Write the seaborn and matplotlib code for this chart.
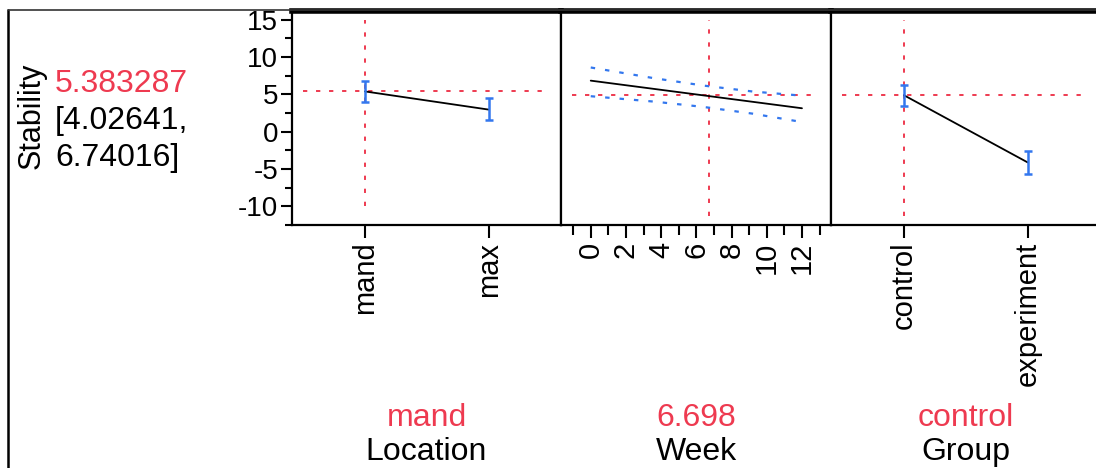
import matplotlib.pyplot as plt
from matplotlib.lines import Line2D
import numpy as np
import pandas as pd
import seaborn as sns

# Profiler values
response = "Stability"
current_pred = 5.383287
current_ci = [4.02641, 6.74016]

location = ["mand", "max"]
location_pred = [5.383287, 2.95]
location_lo = [4.02641, 1.5]
location_hi = [6.74016, 4.45]

group = ["control", "experiment"]
group_pred = [5.383287, -3.2]
group_lo = [4.02641, -4.65]
group_hi = [6.74016, -1.8]

week_fit = [0, 12]
week_pred = [7.25, 3.72]
week_ci = [0, 3.6, 6.4, 9.2, 12]
week_lo = [5.26, 4.57, 3.89, 3.03, 1.96]
week_hi = [8.93, 7.56, 6.62, 5.86, 5.33]
week_current = 6.698

factor_names = ["Location", "Week", "Group"]
factor_current = ["mand", "6.698", "control"]

RED = "#ee3a50"
BLUE = "#3377ee"
FONT = ["Liberation Sans", "DejaVu Sans"]

sns.set_theme(style="white")
plt.rcParams["font.family"] = FONT
plt.rcParams["text.color"] = "black"
plt.rcParams["xtick.color"] = "black"
plt.rcParams["ytick.color"] = "black"
plt.rcParams["xtick.labelcolor"] = "black"
plt.rcParams["ytick.labelcolor"] = "black"

fig = plt.figure(figsize=(10.96, 4.68), dpi=100)
W, H = 1096, 468


def px_axes(left, top, right, bottom):
    return fig.add_axes([left / W, 1 - bottom / H, (right - left) / W, (bottom - top) / H])


ax1 = px_axes(292, 11, 561, 225)
ax2 = px_axes(561, 11, 831, 225)
ax3 = px_axes(831, 11, 1100, 225)
axes = [ax1, ax2, ax3]

ylo, yhi = -11.2, 16.15
red_dots = dict(color=RED, lw=1.4, linestyle=(0, (2.2, 4.5)), zorder=1)
blue_dots = dict(color=BLUE, lw=1.6, linestyle=(0, (2.0, 4.5)))

# categorical panels
for ax, cats, pred, lo, hi in [(ax1, location, location_pred, location_lo, location_hi),
                               (ax3, group, group_pred, group_lo, group_hi)]:
    pos = np.arange(len(cats))
    df = pd.DataFrame({"x": pos, "y": pred})
    sns.lineplot(data=df, x="x", y="y", ax=ax, color="black", lw=1.3, zorder=3)
    yerr = [np.array(pred) - np.array(lo), np.array(hi) - np.array(pred)]
    ax.errorbar(pos, pred, yerr=yerr, fmt="none", ecolor=BLUE, elinewidth=1.8,
                capsize=3, capthick=1.8, zorder=4)
    ax.vlines(pos[0], -10, 15, **red_dots)
    ax.set_xlim(-0.59, 1.585)
    ax.set_xticks(pos)
    ax.set_xticklabels(cats, rotation=90, fontsize=21)

# continuous panel
df_fit = pd.DataFrame({"week": week_fit, "pred": week_pred})
df_ci = pd.DataFrame({"week": week_ci, "lo": week_lo, "hi": week_hi})
sns.lineplot(data=df_fit, x="week", y="pred", ax=ax2, color="black", lw=1.3, zorder=3)
sns.lineplot(data=df_ci, x="week", y="lo", ax=ax2, zorder=2, **blue_dots)
sns.lineplot(data=df_ci, x="week", y="hi", ax=ax2, zorder=2, **blue_dots)
ax2.vlines(week_current, -10, 15, **red_dots)
ax2.set_xlim(-1.69, 13.65)
ax2.set_xticks(np.arange(0, 13, 2))
ax2.set_xticks(np.arange(-1, 14, 2), minor=True)
ax2.set_xticklabels([str(v) for v in range(0, 13, 2)], rotation=90, fontsize=21)

for ax in axes:
    ax.axhline(current_pred, xmin=0.04, xmax=0.935, **red_dots)
    ax.set_ylim(ylo, yhi)
    ax.set_xlabel("")
    ax.set_ylabel("")
    for side in ["left", "right", "bottom"]:
        ax.spines[side].set_visible(True)
        ax.spines[side].set_color("black")
        ax.spines[side].set_linewidth(1.6)
    ax.spines["top"].set_visible(True)
    ax.spines["top"].set_color("black")
    ax.spines["top"].set_linewidth(4)
    ax.tick_params(axis="x", which="major", direction="out", length=9, width=1.5,
                   color="black", bottom=True, pad=3)
    ax.tick_params(axis="x", which="minor", direction="out", length=7, width=1.5,
                   color="black", bottom=True)
    if ax is not ax1:
        ax.set_yticks([])

ax1.set_yticks(np.arange(-10, 16, 5))
ax1.set_yticks(np.arange(-12.5, 16, 5), minor=True)
ax1.set_yticklabels([str(v) for v in range(-10, 16, 5)], fontsize=20)
ax1.tick_params(axis="y", which="major", direction="out", length=8, width=1.5,
                color="black", left=True, pad=2)
ax1.tick_params(axis="y", which="minor", direction="out", length=5, width=1.5,
                color="black", left=True)

# response readout on the left
fig.text(32 / W, 1 - 116 / H, response, rotation=90, fontsize=22, ha="center", va="center")
fig.text(55 / W, 1 - 84 / H, f"{current_pred:.6f}", color=RED, fontsize=23, ha="left", va="center")
fig.text(55 / W, 1 - 121 / H, f"[{current_ci[0]:.5f},", fontsize=23, ha="left", va="center")
fig.text(55 / W, 1 - 158 / H, f"{current_ci[1]:.5f}]", fontsize=23, ha="left", va="center")

# factor names and current settings below
for ax, name, cur in zip(axes, factor_names, factor_current):
    pos = ax.get_position()
    cx = (pos.x0 + min(pos.x1, 1100 / W)) / 2
    fig.text(cx, 1 - 418 / H, cur, color=RED, fontsize=23, ha="center", va="center")
    fig.text(cx, 1 - 452 / H, name, fontsize=23, ha="center", va="center")

# outer frame of the profiler box
fig.add_artist(Line2D([8 / W, 8 / W], [0, 1 - 10 / H], color="black", lw=1.8))
fig.add_artist(Line2D([8 / W, 1], [1 - 10 / H, 1 - 10 / H], color="#333333", lw=1.2))

fig.savefig("out.png", dpi=100)
